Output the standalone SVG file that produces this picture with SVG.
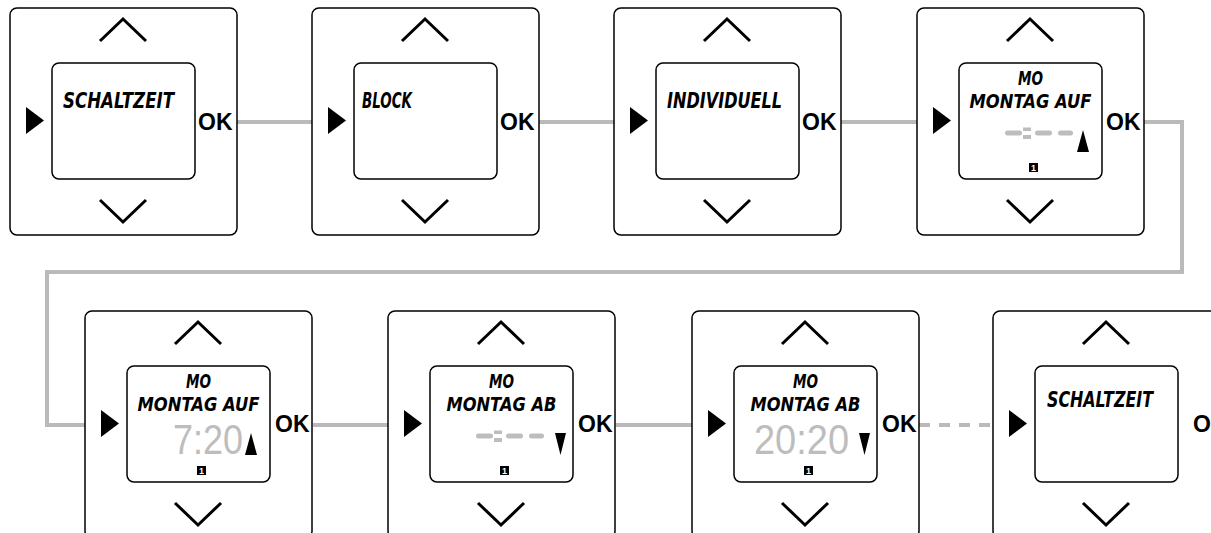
<svg xmlns="http://www.w3.org/2000/svg" xmlns:xlink="http://www.w3.org/1999/xlink" width="1211" height="533" viewBox="0 0 1211 533">
<style>
.outer{fill:#fff;stroke:#000;stroke-width:1.5}
.screen{fill:#fff;stroke:#000;stroke-width:1.5}
.chev{fill:none;stroke:#000;stroke-width:3}
.ok{font-family:"Liberation Sans",Arial,sans-serif;font-size:23px;font-weight:bold;fill:#000}
.lcd{font-family:"DejaVu Sans",sans-serif;font-style:oblique;font-weight:bold;font-size:22px;fill:#000}
.lcd2{font-family:"DejaVu Sans",sans-serif;font-style:oblique;font-weight:bold;font-size:20px;fill:#000;text-anchor:middle}
.dig{font-family:"Liberation Sans",Arial,sans-serif;font-size:42px;fill:#bdbdbd}
.seg{stroke:#bdbdbd;stroke-width:5;stroke-linecap:round}
.segf{fill:#bdbdbd}
.ico{font-family:"Liberation Sans",Arial,sans-serif;font-size:9px;font-weight:bold;fill:#fff;text-anchor:middle}
.conn{fill:none;stroke:#bababa;stroke-width:4}
.dash{stroke-dasharray:11 9}
</style>
<defs>
<g id="frame">
<rect class="outer" x="0" y="0" width="227" height="227" rx="7"/>
<rect class="screen" x="42" y="55" width="143" height="116" rx="7"/>
<polyline class="chev" points="90,33 113,11 136,33"/>
<polyline class="chev" points="90,192 113,214 136,192"/>
<polygon points="16,99 34,112.5 16,126" fill="#000"/>
</g>
<g id="blank">
<line class="seg" x1="90.5" y1="125" x2="102.5" y2="125"/>
<rect class="segf" x="106" y="119.5" width="8" height="3.5"/>
<rect class="segf" x="106" y="127" width="8" height="4"/>
<line class="seg" x1="120.5" y1="125" x2="132.5" y2="125"/>
<line class="seg" x1="143.5" y1="125" x2="153.5" y2="125"/>
</g>
<polygon id="tri-up" points="160,144 166,122 172,144" fill="#000"/>
<polygon id="tri-dn" points="167,122 178,122 172.5,144" fill="#000"/>
<rect id="icon" x="112" y="155" width="9" height="9" fill="#000"/>
</defs>

<g id="connectors">
<path class="conn" d="M237,122 H312"/>
<path class="conn" d="M539,122 H614"/>
<path class="conn" d="M841,122 H917"/>
<path class="conn" d="M1144,122 H1182 V272 H47 V425 H85"/>
<path class="conn" d="M313,425 H388"/>
<path class="conn" d="M616,425 H692"/>
<path class="conn dash" d="M919,425 H993"/>
</g>

<g id="n1" transform="translate(10,8)">
<use xlink:href="#frame"/>
<text class="ok" x="188" y="122">OK</text>
<text class="lcd" x="53" y="100" textLength="111" lengthAdjust="spacingAndGlyphs">SCHALTZEIT</text>
</g>

<g id="n2" transform="translate(312,8)">
<use xlink:href="#frame"/>
<text class="ok" x="188" y="122">OK</text>
<text class="lcd" x="50" y="100" textLength="50" lengthAdjust="spacingAndGlyphs">BLOCK</text>
</g>

<g id="n3" transform="translate(614,8)">
<use xlink:href="#frame"/>
<text class="ok" x="188" y="122">OK</text>
<text class="lcd" transform="translate(53,100) scale(0.73,1)" x="0" y="0" textLength="157.5" lengthAdjust="spacingAndGlyphs">INDIVIDUELL</text>
</g>

<g id="n4" transform="translate(917,8)">
<use xlink:href="#frame"/>
<text class="ok" x="189" y="122">OK</text>
<text class="lcd2" x="113.5" y="76.5" textLength="25" lengthAdjust="spacingAndGlyphs">MO</text>
<text class="lcd2" x="113.5" y="100" textLength="122" lengthAdjust="spacingAndGlyphs">MONTAG AUF</text>
<use xlink:href="#blank"/>
<use xlink:href="#tri-up"/>
<use xlink:href="#icon"/>
<text class="ico" x="116.5" y="163">1</text>
</g>

<g id="n5" transform="translate(85,311)">
<use xlink:href="#frame"/>
<text class="ok" x="190" y="121">OK</text>
<text class="lcd2" x="113.5" y="76.5" textLength="25" lengthAdjust="spacingAndGlyphs">MO</text>
<text class="lcd2" x="113.5" y="100" textLength="122" lengthAdjust="spacingAndGlyphs">MONTAG AUF</text>
<text class="dig" x="88" y="143" textLength="70" lengthAdjust="spacingAndGlyphs">7:20</text>
<use xlink:href="#tri-up"/>
<use xlink:href="#icon"/>
<text class="ico" x="116.5" y="163">1</text>
</g>

<g id="n6" transform="translate(388,311)">
<use xlink:href="#frame"/>
<text class="ok" x="190" y="121">OK</text>
<text class="lcd2" x="113.5" y="76.5" textLength="25" lengthAdjust="spacingAndGlyphs">MO</text>
<text class="lcd2" x="113.5" y="100" textLength="110" lengthAdjust="spacingAndGlyphs">MONTAG AB</text>
<use xlink:href="#blank"/>
<use xlink:href="#tri-dn"/>
<use xlink:href="#icon"/>
<text class="ico" x="116.5" y="163">1</text>
</g>

<g id="n7" transform="translate(692,311)">
<use xlink:href="#frame"/>
<text class="ok" x="190" y="121">OK</text>
<text class="lcd2" x="113.5" y="76.5" textLength="25" lengthAdjust="spacingAndGlyphs">MO</text>
<text class="lcd2" x="113.5" y="100" textLength="110" lengthAdjust="spacingAndGlyphs">MONTAG AB</text>
<text class="dig" x="62" y="143" textLength="95" lengthAdjust="spacingAndGlyphs">20:20</text>
<use xlink:href="#tri-dn"/>
<use xlink:href="#icon"/>
<text class="ico" x="116.5" y="163">1</text>
</g>

<g id="n8" transform="translate(993,311)">
<use xlink:href="#frame"/>
<text class="ok" x="200" y="121">OK</text>
<text class="lcd" x="54" y="96" textLength="106" lengthAdjust="spacingAndGlyphs">SCHALTZEIT</text>
</g>
</svg>
